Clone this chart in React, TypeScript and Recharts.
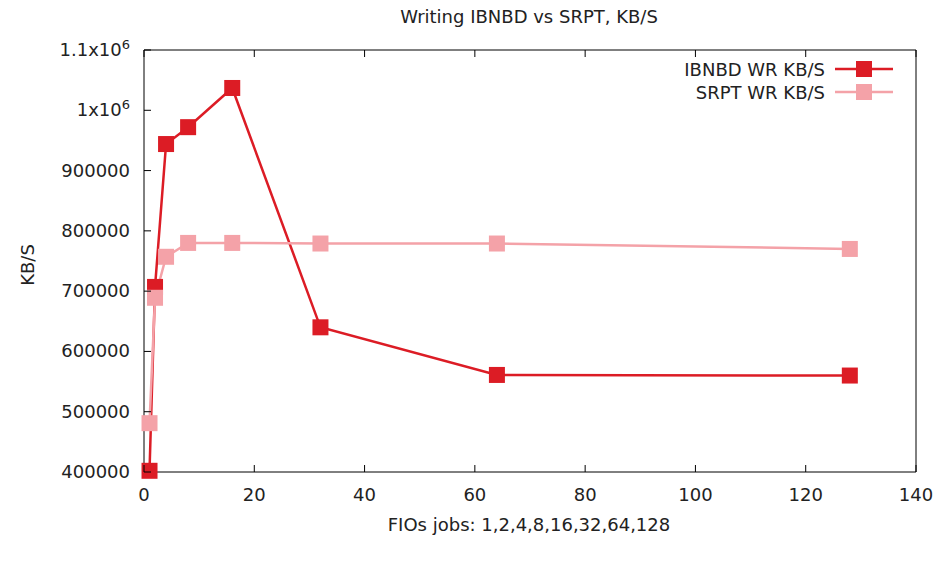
import { LineChart, Line, XAxis, YAxis, Label } from "recharts";

const jobs = [1, 2, 4, 8, 16, 32, 64, 128];
const ibnbdWr = [402000, 707000, 944000, 972000, 1037000, 640000, 561000, 560000];
const srptWr = [481000, 689000, 757000, 780000, 780000, 779000, 779000, 770000];
const xTicks = [0, 20, 40, 60, 80, 100, 120, 140];
const yTicks = [400000, 500000, 600000, 700000, 800000, 900000, 1000000, 1100000];

const RED = "#dc1c25";
const PINK = "#f4a2a8";
const FONT = "DejaVu Sans";
const FS = 18;

const data = jobs.map((j, i) => ({ jobs: j, ibnbd: ibnbdWr[i], srpt: srptWr[i] }));

const SquareDot = (color: string) => (props: any) => {
  const { cx, cy, index } = props;
  if (cx == null || cy == null) return <g key={index} />;
  return <rect key={index} x={cx - 8} y={cy - 8} width={16} height={16} fill={color} />;
};

const BottomTick = (props: any) => {
  const { x, y, payload } = props;
  return (
    <g>
      <line x1={x} y1={y} x2={x} y2={y - 7} stroke="#000" />
      <text x={x} y={y + 29} textAnchor="middle" fontFamily={FONT} fontSize={FS} fill="#222">
        {payload.value}
      </text>
    </g>
  );
};

const TopTick = (props: any) => {
  const { x, y } = props;
  return <line x1={x} y1={y} x2={x} y2={y + 7} stroke="#000" />;
};

const LeftTick = (props: any) => {
  const { x, y, payload } = props;
  const v = payload.value as number;
  let label: any = String(v);
  if (v >= 1000000) {
    const m = v / 1000000;
    label = (
      <>
        <tspan>{`${m}x10`}</tspan>
        <tspan dy={-7} fontSize={13}>6</tspan>
      </>
    );
  }
  return (
    <g>
      <line x1={x} y1={y} x2={x + 7} y2={y} stroke="#000" />
      <text x={x - 14} y={y + 6} textAnchor="end" fontFamily={FONT} fontSize={FS} fill="#222">
        {label}
      </text>
    </g>
  );
};

const RightTick = (props: any) => {
  const { x, y } = props;
  return <line x1={x} y1={y} x2={x - 7} y2={y} stroke="#000" />;
};

// legend drawn as an overlay so it doesn't eat plot space
const LegendBox = () => (
  <svg
    width={270}
    height={60}
    style={{ position: "absolute", left: 647, top: 50, fontFamily: FONT, overflow: "visible" }}
  >
    <text x={178} y={26} textAnchor="end" fontSize={FS} fill="#222">IBNBD WR KB/S</text>
    <line x1={188} y1={19} x2={246} y2={19} stroke={RED} strokeWidth={2.5} />
    <rect x={209} y={11} width={16} height={16} fill={RED} />
    <text x={178} y={49} textAnchor="end" fontSize={FS} fill="#222">SRPT WR KB/S</text>
    <line x1={188} y1={42} x2={246} y2={42} stroke={PINK} strokeWidth={2.5} />
    <rect x={209} y={34} width={16} height={16} fill={PINK} />
  </svg>
);

export default function App() {
  return (
    <div style={{ position: "absolute", left: 0, top: 0, width: 947, height: 563, background: "#fff" }}>
      <LineChart
        width={947}
        height={563}
        data={data}
        margin={{ top: 49, right: 30, bottom: 0, left: 0 }}
        style={{ fontFamily: FONT }}
      >
        <XAxis
          xAxisId="bottom"
          dataKey="jobs"
          type="number"
          domain={[0, 140]}
          ticks={xTicks}
          interval={0}
          height={91}
          tickSize={0}
          tickMargin={0}
          tickLine={false}
          tick={BottomTick}
          axisLine={{ stroke: "#000" }}
        >
          <Label
            content={() => (
              <text x={529} y={531} textAnchor="middle" fontFamily={FONT} fontSize={FS} fill="#222">
                FIOs jobs: 1,2,4,8,16,32,64,128
              </text>
            )}
          />
        </XAxis>
        <XAxis
          xAxisId="top"
          orientation="top"
          dataKey="jobs"
          type="number"
          domain={[0, 140]}
          ticks={xTicks}
          interval={0}
          height={1}
          tickSize={0}
          tickMargin={0}
          tickLine={false}
          tick={TopTick}
          axisLine={{ stroke: "#000" }}
        >
          <Label
            content={() => (
              <text x={529} y={23} textAnchor="middle" fontFamily={FONT} fontSize={FS} fill="#222">
                Writing IBNBD vs SRPT, KB/S
              </text>
            )}
          />
        </XAxis>
        <YAxis
          yAxisId="left"
          type="number"
          domain={[400000, 1100000]}
          ticks={yTicks}
          interval={0}
          width={144}
          tickSize={0}
          tickMargin={0}
          tickLine={false}
          tick={LeftTick}
          axisLine={{ stroke: "#000" }}
        >
          <Label
            content={() => (
              <text
                x={34}
                y={265}
                textAnchor="middle"
                fontFamily={FONT}
                fontSize={FS}
                fill="#222"
                transform="rotate(-90 34 265)"
              >
                KB/S
              </text>
            )}
          />
        </YAxis>
        <YAxis
          yAxisId="right"
          orientation="right"
          type="number"
          domain={[400000, 1100000]}
          ticks={yTicks}
          interval={0}
          width={1}
          tickSize={0}
          tickMargin={0}
          tickLine={false}
          tick={RightTick}
          axisLine={{ stroke: "#000" }}
        />
        <Line
          xAxisId="bottom"
          yAxisId="left"
          type="linear"
          dataKey="ibnbd"
          name="IBNBD WR KB/S"
          stroke={RED}
          strokeWidth={2.5}
          dot={SquareDot(RED)}
          activeDot={false}
          isAnimationActive={false}
        />
        <Line
          xAxisId="bottom"
          yAxisId="left"
          type="linear"
          dataKey="srpt"
          name="SRPT WR KB/S"
          stroke={PINK}
          strokeWidth={2.5}
          dot={SquareDot(PINK)}
          activeDot={false}
          isAnimationActive={false}
        />
      </LineChart>
      <LegendBox />
    </div>
  );
}
